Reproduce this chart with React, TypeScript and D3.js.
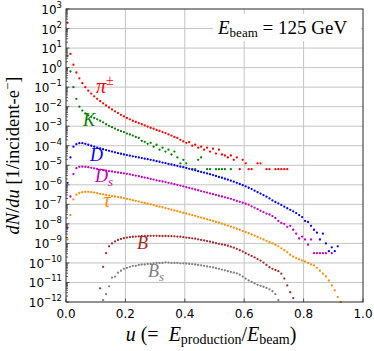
import React from 'react';
import * as d3 from 'd3';

const W = 374;
const H = 351;
const BIN = 0.01; // width of a u bin

// log10(dN/du) per bin, first bin centred at the given start; null = empty bin
const piStart = 0.005;
const piLog = [
  2.3, 0.7, 0.15, -0.25, -0.55, -0.8, -1.0, -1.18, -1.33, -1.47,
  -1.6, -1.72, -1.83, -1.94, -2.04, -2.14, -2.24, -2.33, -2.42, -2.5,
  -2.58, -2.65, -2.72, -2.78, -2.84, -2.9, -2.96, -3.02, -3.08, -3.13,
  -3.19, -3.24, -3.3, -3.35, -3.42, -3.48, -3.55, -3.6, -3.7, -3.78,
  -3.85, -3.82, -4.0, -3.95, -4.1, -4.05, -4.2, -4.1, -4.3, -4.15,
  -4.4, -4.2, -4.45, -4.5, -4.6, -4.5, -4.72, -4.6, -5.2, -4.72,
  -4.9, -5.2, -5.2, null, -4.9, -4.9, null, -5.2, -5.2, null,
  -5.2, -5.2, -5.2, -5.2, -5.2,
];

const kStart = 0.005;
const kLog = [
  0.6, -0.2, -1.0, -1.6, -2.0, -2.2, -2.35, -2.45, -2.52, -2.58,
  -2.65, -2.72, -2.8, -2.9, -2.98, -3.05, -3.12, -3.2, -3.25, -3.3,
  -3.38, -3.42, -3.48, -3.55, -3.6, -3.75, -3.8, -3.9, -3.85, -4.05,
  -3.95, -4.2, -4.1, -4.3, -4.2, -4.45, -4.3, -4.6, -4.9, -4.72,
  -4.9, null, -5.2, -5.2, -4.72, -4.6, null, -5.2, -5.2, null,
  -5.2, -5.2, -5.2, -5.2, null, -5.2,
];

const dStart = 0.005;
const dLog = [
  -5.9, -4.6, -4.05, -3.92, -3.87, -3.87, -3.9, -3.95, -4.0, -4.05,
  -4.1, -4.14, -4.18, -4.22, -4.26, -4.3, -4.34, -4.38, -4.41, -4.45,
  -4.48, -4.51, -4.54, -4.57, -4.6, -4.63, -4.66, -4.69, -4.72, -4.75,
  -4.79, -4.82, -4.86, -4.89, -4.93, -4.96, -5.0, -5.03, -5.07, -5.1,
  -5.14, -5.18, -5.22, -5.26, -5.3, -5.34, -5.38, -5.42, -5.46, -5.5,
  -5.55, -5.6, -5.64, -5.69, -5.74, -5.79, -5.84, -5.9, -5.96, -6.02,
  -6.08, -6.15, -6.22, -6.3, -6.38, -6.45, -6.53, -6.61, -6.7, -6.8,
  -6.88, -6.95, -7.03, -7.12, -7.2, -7.28, -7.36, -7.45, -7.55, -7.65,
  -7.85, -7.9, -8.1, -8.3, -8.45, -8.8, -8.5, -9.0, -9.4, -9.2,
  -9.4, -9.15,
];

const dsStart = 0.005;
const dsLog = [
  -8.2, -6.6, -5.45, -5.15, -5.08, -5.07, -5.08, -5.1, -5.13, -5.16,
  -5.19, -5.22, -5.25, -5.27, -5.3, -5.32, -5.35, -5.37, -5.39, -5.41,
  -5.44, -5.47, -5.5, -5.53, -5.56, -5.6, -5.63, -5.66, -5.7, -5.73,
  -5.77, -5.8, -5.83, -5.86, -5.9, -5.93, -5.97, -6.0, -6.04, -6.08,
  -6.12, -6.16, -6.2, -6.24, -6.28, -6.32, -6.36, -6.4, -6.44, -6.48,
  -6.52, -6.56, -6.6, -6.64, -6.68, -6.72, -6.77, -6.82, -6.87, -6.92,
  -6.97, -7.02, -7.1, -7.17, -7.25, -7.33, -7.4, -7.48, -7.52, -7.6,
  -7.7, -7.85, -7.95, -8.0, -8.15, -8.1, -8.3, -8.5, -8.75, -8.65,
  -8.8, -9.07, -8.8, -9.5, -9.5, -9.5, -9.5, -9.5, null, -9.5,
];

const tauStart = 0.005;
const tauLog = [
  -8.8, -7.55, -6.75, -6.5, -6.42, -6.38, -6.36, -6.36, -6.38, -6.4,
  -6.43, -6.46, -6.49, -6.52, -6.55, -6.58, -6.6, -6.63, -6.65, -6.68,
  -6.72, -6.75, -6.79, -6.82, -6.86, -6.9, -6.93, -6.97, -7.0, -7.04,
  -7.08, -7.12, -7.15, -7.19, -7.23, -7.27, -7.31, -7.35, -7.39, -7.43,
  -7.47, -7.51, -7.55, -7.59, -7.64, -7.68, -7.72, -7.77, -7.81, -7.85,
  -7.9, -7.94, -7.99, -8.04, -8.09, -8.14, -8.19, -8.25, -8.3, -8.36,
  -8.42, -8.48, -8.54, -8.6, -8.67, -8.74, -8.8, -8.87, -8.94, -9.0,
  -9.07, -9.15, -9.25, -9.35, -9.45, -9.58, -9.68, -9.75, -9.82, -9.88,
  -9.93, -10.0, -10.07, -10.12, -10.25, -10.4, -10.55, -10.69, -10.9, -11.15,
  -11.4, -11.75, -12.0,
];

const bStart = 0.115;
const bLog = [
  -11.3, -10.2, -9.5, -9.15, -9.0, -8.9, -8.82, -8.77, -8.73,
  -8.7, -8.68, -8.66, -8.65, -8.64, -8.63, -8.62, -8.62, -8.61, -8.61,
  -8.61, -8.62, -8.62, -8.62, -8.63, -8.63, -8.64, -8.65, -8.66, -8.68,
  -8.7, -8.72, -8.74, -8.76, -8.79, -8.82, -8.85, -8.88, -8.91, -8.95,
  -8.99, -9.02, -9.05, -9.08, -9.12, -9.17, -9.22, -9.28, -9.35, -9.42,
  -9.5, -9.57, -9.64, -9.72, -9.8, -9.88, -9.98, -10.1, -10.22, -10.3,
  -10.36, -10.42, -10.55, -10.8, -11.15, -11.5, -11.8,
];

const bsStart = 0.125;
const bsLog = [
  -11.9, -11.6, -11.2, -10.75, -10.7, -10.5, -10.4, -10.3,
  -10.25, -10.2, -10.15, -10.15, -10.1, -10.08, -10.08, -10.05, -10.05, -10.02,
  -10.0, -10.0, -10.0, -9.97, -9.98, -10.0, -10.0, -10.0, -10.02, -10.02,
  -10.03, -10.05, -10.06, -10.08, -10.1, -10.12, -10.15, -10.18, -10.2, -10.23,
  -10.27, -10.3, -10.34, -10.38, -10.42, -10.46, -10.5, -10.53, -10.6, -10.7,
  -10.8, -10.9, -10.97, -11.05, -11.12, -11.17, -11.22, -11.28, -11.35, -11.45,
  -11.6, -11.9,
];

const xTicks = [0, 0.2, 0.4, 0.6, 0.8, 1.0];
const yExponents = d3.range(-12, 4);

type Series = { key: string; start: number; vals: (number | null)[]; color: string };
const series: Series[] = [
  { key: 'pi', start: piStart, vals: piLog, color: '#ff0000' },
  { key: 'K', start: kStart, vals: kLog, color: '#008000' },
  { key: 'D', start: dStart, vals: dLog, color: '#0000ff' },
  { key: 'Ds', start: dsStart, vals: dsLog, color: '#bf00bf' },
  { key: 'tau', start: tauStart, vals: tauLog, color: '#ff8c00' },
  { key: 'B', start: bStart, vals: bLog, color: '#a52a2a' },
  { key: 'Bs', start: bsStart, vals: bsLog, color: '#808080' },
];

const serif = '"Liberation Serif", "DejaVu Serif", serif';
const sans = '"DejaVu Sans", sans-serif';

export default function App() {
  const m = { left: 66, right: 363, top: 9, bottom: 302 };
  const x = d3.scaleLinear().domain([0, 1]).range([m.left, m.right]);
  const y = d3.scaleLog().domain([1e-12, 1e3]).range([m.bottom, m.top]);

  const minor: number[] = [];
  yExponents.slice(0, -1).forEach((e) => {
    for (let k = 2; k <= 9; k++) minor.push(k * Math.pow(10, e));
  });

  // label anchor in data coords (u, log10 value)
  const lbl = (u: number, lg: number) => ({ x: x(u), y: y(Math.pow(10, lg)) });
  const lp = {
    pi: lbl(0.101, -1.3),
    K: lbl(0.057, -2.98),
    D: lbl(0.081, -4.77),
    Ds: lbl(0.098, -5.85),
    tau: lbl(0.125, -7.13),
    B: lbl(0.239, -9.28),
    Bs: lbl(0.276, -10.71),
  };
  const lfs = 18;

  return (
    <svg width={W} height={H} style={{ position: 'absolute', left: 0, top: 0, background: '#fff' }}>
      {/* grid */}
      <g stroke="#c4c4c4" strokeWidth={1}>
        {xTicks.slice(1, -1).map((t) => (
          <line key={t} x1={x(t)} x2={x(t)} y1={m.top} y2={m.bottom} />
        ))}
        {yExponents.slice(1, -1).map((e) => (
          <line key={e} x1={m.left} x2={m.right} y1={y(Math.pow(10, e))} y2={y(Math.pow(10, e))} />
        ))}
      </g>

      {/* data */}
      {series.map((s) => (
        <g key={s.key} fill={s.color}>
          {s.vals.map((v, i) =>
            v === null ? null : (
              <circle key={i} cx={x(s.start + i * BIN)} cy={y(Math.pow(10, v))} r={1.15} />
            )
          )}
        </g>
      ))}

      {/* energy box */}
      <rect x={213} y={14} width={148} height={27} fill="#fff" />
      <text x={218} y={34} fontFamily={serif} fontSize={19} fill="#000">
        <tspan fontStyle="italic">E</tspan>
        <tspan fontSize={13} dy={3}>beam</tspan>
        <tspan dy={-3}> = 125 GeV</tspan>
      </text>

      {/* curve labels */}
      <g fontFamily={serif} fontSize={lfs}>
        <text x={lp.pi.x} y={lp.pi.y} fill="#ff0000">
          <tspan fontStyle="italic" fontSize={20}>π</tspan>
          <tspan fontSize={14} dy={-8}>±</tspan>
        </text>
        <text x={lp.K.x} y={lp.K.y} fill="#008000" fontStyle="italic">K</text>
        <text x={lp.D.x} y={lp.D.y} fill="#0000ff" fontStyle="italic">D</text>
        <text x={lp.Ds.x} y={lp.Ds.y} fill="#bf00bf" fontStyle="italic">
          D<tspan fontSize={13} dy={4}>s</tspan>
        </text>
        <text x={lp.tau.x} y={lp.tau.y} fill="#ff8c00" fontStyle="italic" fontSize={20}>τ</text>
        <text x={lp.B.x} y={lp.B.y} fill="#a52a2a" fontStyle="italic">B</text>
        <text x={lp.Bs.x} y={lp.Bs.y} fill="#808080" fontStyle="italic">
          B<tspan fontSize={13} dy={4}>s</tspan>
        </text>
      </g>

      {/* ticks */}
      <g stroke="#333" strokeWidth={0.8}>
        {xTicks.map((t) => (
          <line key={t} x1={x(t)} x2={x(t)} y1={m.bottom} y2={m.bottom - 3.5} />
        ))}
        {yExponents.map((e) => (
          <line key={e} x1={m.left} x2={m.left + 3.5} y1={y(Math.pow(10, e))} y2={y(Math.pow(10, e))} />
        ))}
        {minor.map((v, i) => (
          <line key={i} x1={m.left} x2={m.left + 2} y1={y(v)} y2={y(v)} />
        ))}
      </g>

      {/* frame */}
      <rect x={m.left} y={m.top} width={m.right - m.left} height={m.bottom - m.top}
        fill="none" stroke="#262626" strokeWidth={1} />

      {/* tick labels */}
      <g fontFamily={sans} fontSize={12} fill="#000">
        {xTicks.map((t) => (
          <text key={t} x={x(t)} y={m.bottom + 16} textAnchor="middle">{t.toFixed(1)}</text>
        ))}
        {yExponents.map((e) => (
          <text key={e} x={m.left - 4} y={y(Math.pow(10, e)) + 5} textAnchor="end">
            10<tspan fontSize={8.5} dy={-6}>{e < 0 ? '\u2212' + Math.abs(e) : String(e)}</tspan>
          </text>
        ))}
      </g>

      {/* axis titles */}
      <text x={211} y={341} textAnchor="middle" fontFamily={serif} fontSize={20}>
        <tspan fontStyle="italic">u</tspan>{' (=\u2002'}<tspan fontStyle="italic">E</tspan>
        <tspan fontSize={14} dy={3}>production</tspan>
        <tspan dy={-3}>/</tspan><tspan fontStyle="italic">E</tspan>
        <tspan fontSize={14} dy={3}>beam</tspan>
        <tspan dy={-3}>)</tspan>
      </text>
      <text transform={`translate(19,${(m.top + m.bottom) / 2}) rotate(-90)`} textAnchor="middle"
        fontFamily={serif} fontSize={18.5}>
        <tspan fontStyle="italic">dN</tspan>/<tspan fontStyle="italic">du</tspan> [1/incident-e
        <tspan fontSize={13} dy={-7}>−</tspan>
        <tspan dy={7}>]</tspan>
      </text>
    </svg>
  );
}
